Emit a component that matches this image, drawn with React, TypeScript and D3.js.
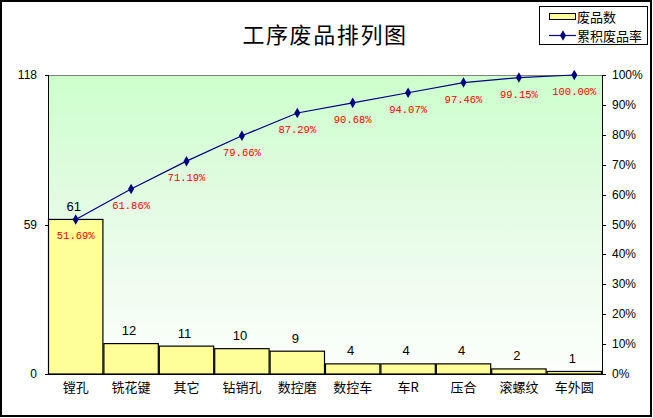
import * as d3 from 'd3';
import { useEffect, useRef } from 'react';

const categories = ['镗孔', '铣花键', '其它', '钻销孔', '数控磨', '数控车', '车R', '压合', '滚螺纹', '车外圆'];
const counts = [61, 12, 11, 10, 9, 4, 4, 4, 2, 1];
const cumulative = [51.69, 61.86, 71.19, 79.66, 87.29, 90.68, 94.07, 97.46, 99.15, 100.0];
const leftTicks = [0, 59, 118];
const rightTicks = [0, 10, 20, 30, 40, 50, 60, 70, 80, 90, 100];

const ParetoChart = () => {
  const svgRef = useRef<SVGSVGElement | null>(null);

  useEffect(() => {
    const width = 653;
    const height = 418;
    const plot = { left: 48, right: 602, top: 75, bottom: 374 };

    const svg = d3.select(svgRef.current).attr('width', width).attr('height', height);
    svg.selectAll('*').remove();

    const cjk = '"Noto Sans CJK SC", sans-serif';
    const latin = '"Liberation Sans", Arial, sans-serif';

    // white page + outer border
    svg.append('rect').attr('x', 0).attr('y', 0).attr('width', width).attr('height', height).attr('fill', '#fff');
    svg
      .append('rect')
      .attr('x', 1)
      .attr('y', 1)
      .attr('width', 650)
      .attr('height', 415)
      .attr('fill', 'none')
      .attr('stroke', '#000')
      .attr('stroke-width', 2);

    // background gradient for plot area
    const defs = svg.append('defs');
    const grad = defs.append('linearGradient').attr('id', 'bg').attr('x1', 0).attr('y1', 0).attr('x2', 0).attr('y2', 1);
    grad.append('stop').attr('offset', '0%').attr('stop-color', '#ccffcc');
    grad.append('stop').attr('offset', '45%').attr('stop-color', '#e4fbe4');
    grad.append('stop').attr('offset', '100%').attr('stop-color', '#fdfffd');

    const x = d3
      .scaleBand<string>()
      .domain(categories)
      .range([plot.left, plot.right])
      .padding(0);
    const yLeft = d3.scaleLinear().domain([0, 118]).range([plot.bottom, plot.top]);
    const yRight = d3.scaleLinear().domain([0, 100]).range([plot.bottom, plot.top]);

    svg
      .append('rect')
      .attr('x', plot.left)
      .attr('y', plot.top)
      .attr('width', plot.right - plot.left)
      .attr('height', plot.bottom - plot.top)
      .attr('fill', 'url(#bg)');

    // top border of plot (gray)
    svg
      .append('line')
      .attr('x1', plot.left)
      .attr('x2', plot.right)
      .attr('y1', plot.top + 0.5)
      .attr('y2', plot.top + 0.5)
      .attr('stroke', '#808080');

    // title
    svg
      .append('text')
      .attr('x', 325)
      .attr('y', 33)
      .attr('text-anchor', 'middle')
      .attr('dominant-baseline', 'central')
      .attr('font-family', cjk)
      .attr('font-size', 22)
      .attr('letter-spacing', 1.6)
      .attr('fill', '#000')
      .text('工序废品排列图');

    // bars
    svg
      .append('g')
      .selectAll('rect')
      .data(counts)
      .join('rect')
      .attr('x', (_, i) => x(categories[i])! + 0.5)
      .attr('y', (d) => yLeft(d))
      .attr('width', x.bandwidth() - 1)
      .attr('height', (d) => plot.bottom - yLeft(d))
      .attr('fill', '#ffff99')
      .attr('stroke', '#000')
      .attr('stroke-width', 1.2);

    // count labels
    svg
      .append('g')
      .selectAll('text')
      .data(counts)
      .join('text')
      .attr('x', (_, i) => x(categories[i])! + x.bandwidth() / 2 - 2)
      .attr('y', (d) => yLeft(d) - 13)
      .attr('text-anchor', 'middle')
      .attr('dominant-baseline', 'central')
      .attr('font-family', latin)
      .attr('font-size', 13)
      .attr('fill', '#000')
      .text((d) => String(d));

    // left axis
    const leftAxis = svg.append('g');
    leftAxis
      .append('line')
      .attr('x1', plot.left + 0.5)
      .attr('x2', plot.left + 0.5)
      .attr('y1', plot.top)
      .attr('y2', plot.bottom)
      .attr('stroke', '#000');
    leftAxis
      .selectAll('line.tick')
      .data(leftTicks)
      .join('line')
      .attr('class', 'tick')
      .attr('x1', plot.left - 3)
      .attr('x2', plot.left)
      .attr('y1', (d) => Math.round(yLeft(d)) + 0.5)
      .attr('y2', (d) => Math.round(yLeft(d)) + 0.5)
      .attr('stroke', '#000');
    leftAxis
      .selectAll('text')
      .data(leftTicks)
      .join('text')
      .attr('x', 37)
      .attr('y', (d) => yLeft(d))
      .attr('text-anchor', 'end')
      .attr('dominant-baseline', 'central')
      .attr('font-family', latin)
      .attr('font-size', 12)
      .attr('fill', '#000')
      .text((d) => String(d));

    // bottom axis line
    svg
      .append('line')
      .attr('x1', plot.left)
      .attr('x2', plot.right)
      .attr('y1', plot.bottom + 0.5)
      .attr('y2', plot.bottom + 0.5)
      .attr('stroke', '#000');

    // category labels
    svg
      .append('g')
      .selectAll('text')
      .data(categories)
      .join('text')
      .attr('x', (d) => x(d)! + x.bandwidth() / 2)
      .attr('y', 386)
      .attr('text-anchor', 'middle')
      .attr('dominant-baseline', 'central')
      .attr('font-family', cjk)
      .attr('font-size', 13)
      .attr('fill', '#000')
      .text((d) => d);

    // right axis
    const rightAxis = svg.append('g');
    rightAxis
      .append('line')
      .attr('x1', plot.right + 0.5)
      .attr('x2', plot.right + 0.5)
      .attr('y1', plot.top)
      .attr('y2', plot.bottom + 1)
      .attr('stroke', '#000');
    rightAxis
      .selectAll('line.tick')
      .data(rightTicks)
      .join('line')
      .attr('class', 'tick')
      .attr('x1', plot.right)
      .attr('x2', plot.right + 4)
      .attr('y1', (d) => Math.round(yRight(d)) + 0.5)
      .attr('y2', (d) => Math.round(yRight(d)) + 0.5)
      .attr('stroke', '#000');
    rightAxis
      .selectAll('text')
      .data(rightTicks)
      .join('text')
      .attr('x', 612)
      .attr('y', (d) => yRight(d))
      .attr('dominant-baseline', 'central')
      .attr('font-family', latin)
      .attr('font-size', 12)
      .attr('fill', '#000')
      .text((d) => `${d}%`);

    // cumulative line
    const cx = (i: number) => x(categories[i])! + x.bandwidth() / 2;
    const line = d3
      .line<number>()
      .x((_, i) => cx(i))
      .y((d) => yRight(d));
    svg
      .append('path')
      .attr('d', line(cumulative))
      .attr('fill', 'none')
      .attr('stroke', '#000080')
      .attr('stroke-width', 1.2);

    const diamond = d3.symbol().type(d3.symbolDiamond).size(32);
    svg
      .append('g')
      .selectAll('path')
      .data(cumulative)
      .join('path')
      .attr('d', diamond())
      .attr('transform', (d, i) => `translate(${cx(i)},${yRight(d)})`)
      .attr('fill', '#000080');

    // percent labels
    svg
      .append('g')
      .selectAll('text')
      .data(cumulative)
      .join('text')
      .attr('x', (_, i) => cx(i))
      .attr('y', (d) => yRight(d) + 17)
      .attr('text-anchor', 'middle')
      .attr('dominant-baseline', 'central')
      .attr('font-family', '"Liberation Mono", "DejaVu Sans Mono", monospace')
      .attr('font-size', 10.5)
      .attr('fill', '#ff0000')
      .text((d) => `${d.toFixed(2)}%`);

    // legend
    const legend = svg.append('g');
    legend
      .append('rect')
      .attr('x', 539.5)
      .attr('y', 6.5)
      .attr('width', 108)
      .attr('height', 38)
      .attr('fill', '#fff')
      .attr('stroke', '#000');
    legend
      .append('rect')
      .attr('x', 549.5)
      .attr('y', 13.5)
      .attr('width', 26)
      .attr('height', 6)
      .attr('fill', '#ffff99')
      .attr('stroke', '#000');
    legend
      .append('text')
      .attr('x', 577)
      .attr('y', 16.5)
      .attr('dominant-baseline', 'central')
      .attr('font-family', cjk)
      .attr('font-size', 13)
      .text('废品数');
    legend
      .append('line')
      .attr('x1', 549)
      .attr('x2', 576)
      .attr('y1', 35.5)
      .attr('y2', 35.5)
      .attr('stroke', '#000080')
      .attr('stroke-width', 1.2);
    legend
      .append('path')
      .attr('d', diamond())
      .attr('transform', 'translate(563,35.5)')
      .attr('fill', '#000080');
    legend
      .append('text')
      .attr('x', 577)
      .attr('y', 35)
      .attr('dominant-baseline', 'central')
      .attr('font-family', cjk)
      .attr('font-size', 13)
      .text('累积废品率');
  }, []);

  return <svg ref={svgRef} style={{ position: 'absolute', left: 0, top: 0 }}></svg>;
};

export default function App() {
  return <ParetoChart />;
}
